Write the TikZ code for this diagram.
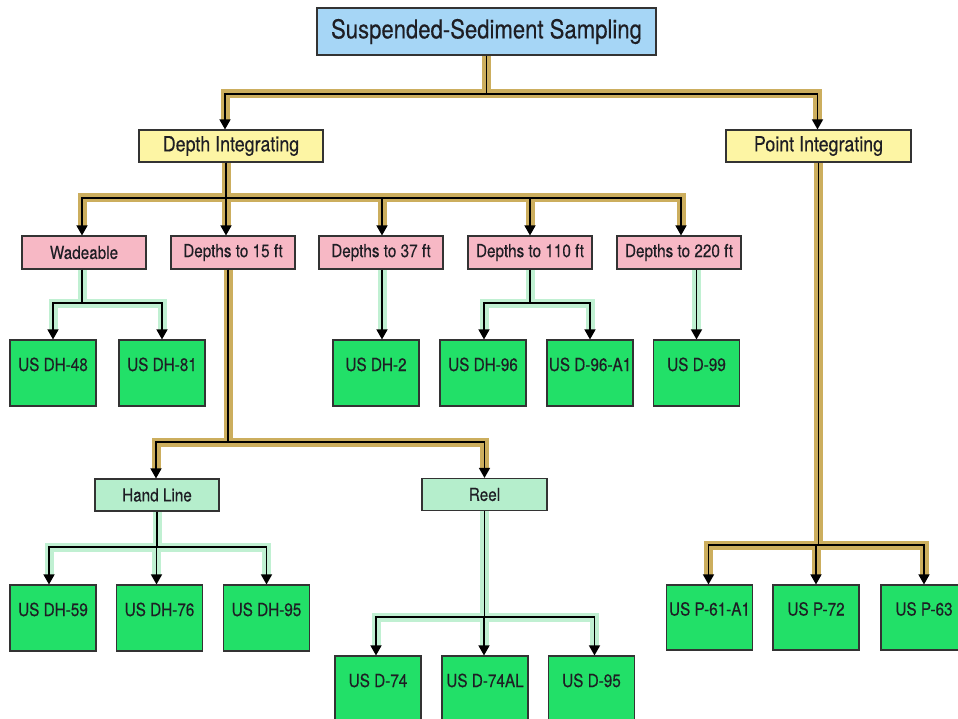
\documentclass[tikz,border=0pt]{standalone}
\usepackage{fontspec}
\setmainfont{TeX Gyre Heros}[FakeStretch=0.85, FakeBold=0.3]
\usetikzlibrary{arrows.meta}
\pgfdeclarelayer{back}
\pgfdeclarelayer{bands}
\pgfsetlayers{back,bands,main}
\definecolor{titleblue}{HTML}{A6D6F6}
\definecolor{lvlyellow}{HTML}{FDF5A4}
\definecolor{lvlpink}{HTML}{F7B8C5}
\definecolor{lvlmint}{HTML}{B5EECC}
\definecolor{boxgreen}{HTML}{22E068}
\definecolor{tanband}{HTML}{CCAE5E}
\definecolor{mintband}{HTML}{C0F0D2}
\definecolor{edgegray}{HTML}{333333}
\definecolor{txt}{HTML}{1E1E24}
\tikzset{
  basebox/.style={draw=edgegray, line width=1.1pt, inner sep=0pt, text=txt, font=\fontsize{18}{20}\selectfont},
  titlebox/.style={basebox, fill=titleblue, minimum width=339pt, minimum height=47pt, font=\fontsize{26}{28}\selectfont},
  ybox/.style={basebox, fill=lvlyellow, minimum width=184pt, minimum height=32pt, font=\fontsize{21}{23}\selectfont},
  pbox/.style={basebox, fill=lvlpink, minimum width=124pt, minimum height=33pt},
  mbox/.style={basebox, fill=lvlmint, minimum width=124pt, minimum height=32pt},
  gbox/.style={basebox, fill=boxgreen, minimum width=86pt, minimum height=66pt, text height=13pt, text depth=17pt},
  tanline/.style={draw=tanband, line width=9pt, line join=miter, shorten >=9pt},
  mintline/.style={draw=mintband, line width=9pt, line join=miter, shorten >=9pt},
  conn/.style={draw=black, line width=1.4pt, -{Triangle[width=11pt,length=10pt]}}
}
\newcommand\branch[4]{%
  \begin{pgfonlayer}{bands}\draw[#1] (#2) -- (#2 |- #3) -| (#4);\end{pgfonlayer}
  \draw[conn] (#2) -- (#2 |- #3) -| (#4);}
\newcommand\straight[3]{%
  \begin{pgfonlayer}{bands}\draw[#1] (#2) -- (#3);\end{pgfonlayer}
  \draw[conn] (#2) -- (#3);}
\begin{document}
\begin{tikzpicture}[x=1pt,y=-1pt]
\begin{pgfonlayer}{back}
\fill[white] (0,0) rectangle (958,719);
\end{pgfonlayer}
\useasboundingbox (0,0) rectangle (958,719);
\clip (0,0) rectangle (958,719);

% nodes
\node[titlebox] (top) at (486.5,31.5) {Suspended-Sediment Sampling};
\node[ybox] (di) at (231,146) {Depth Integrating};
\node[ybox, minimum width=185pt] (pi) at (818.5,146) {Point Integrating};

\node[pbox] (wd) at (84,252.5) {Wadeable};
\node[pbox] (d15) at (233,252.5) {Depths to 15 ft};
\node[pbox] (d37) at (381,252.5) {Depths to 37 ft};
\node[pbox] (d110) at (530,252.5) {Depths to 110 ft};
\node[pbox] (d220) at (679,252.5) {Depths to 220 ft};

\node[gbox] (dh48) at (53,373) {US DH-48};
\node[gbox] (dh81) at (162,373) {US DH-81};
\node[gbox] (dh2) at (376,373) {US DH-2};
\node[gbox] (dh96) at (483,373) {US DH-96};
\node[gbox] (d96a1) at (590,373) {US D-96-A1};
\node[gbox] (d99) at (696.5,373) {US D-99};

\node[mbox] (hl) at (157,495) {Hand Line};
\node[mbox, minimum width=125pt] (reel) at (484.5,494.5) {Reel};

\node[gbox] (dh59) at (53,618) {US DH-59};
\node[gbox] (dh76) at (159.5,618) {US DH-76};
\node[gbox] (dh95) at (266.5,618) {US DH-95};

\node[gbox] (d74) at (378,689) {US D-74};
\node[gbox] (d74al) at (485,689) {US D-74AL};
\node[gbox] (d95) at (591.5,689) {US D-95};

\node[gbox, minimum height=65pt] (p61) at (709.5,617.5) {US P-61-A1};
\node[gbox, minimum height=65pt] (p72) at (816,617.5) {US P-72};
\node[gbox, minimum height=65pt] (p63) at (924,617.5) {US P-63};

% junctions and offset anchors
\coordinate (j0) at (0,94);
\coordinate (j1) at (0,198);
\coordinate (j2) at (0,303);
\coordinate (j3) at (0,442);
\coordinate (j4) at (0,547);
\coordinate (j5) at (0,617);
\coordinate (j6) at (0,545);
\coordinate (diS) at ([xshift=-5pt]di.south);
\coordinate (d15S) at ([xshift=-5pt]d15.south);
\coordinate (wdS) at ([xshift=-2pt]wd.south);

% top level
\branch{tanline}{top.south}{j0}{[xshift=-6pt]di.north}
\branch{tanline}{top.south}{j0}{[xshift=-1pt]pi.north}
% depth integrating
\branch{tanline}{diS}{j1}{[xshift=-2pt]wd.north}
\branch{tanline}{diS}{j1}{[xshift=-7pt]d15.north}
\branch{tanline}{diS}{j1}{[xshift=1pt]d37.north}
\branch{tanline}{diS}{j1}{d110.north}
\branch{tanline}{diS}{j1}{[xshift=2pt]d220.north}
% wadeable
\branch{mintline}{wdS}{j2}{dh48.north}
\branch{mintline}{wdS}{j2}{dh81.north}
% 37, 110, 220
\straight{mintline}{[xshift=1pt]d37.south}{[xshift=1pt]d37.south |- dh2.north}
\branch{mintline}{d110.south}{j2}{[xshift=1pt]dh96.north}
\branch{mintline}{d110.south}{j2}{d96a1.north}
\straight{mintline}{d99.north |- d220.south}{d99.north}
% 15 ft
\branch{tanline}{d15S}{j3}{[xshift=-1pt]hl.north}
\branch{tanline}{d15S}{j3}{reel.north}
% hand line
\branch{mintline}{hl.south}{j4}{[xshift=-4pt]dh59.north}
\branch{mintline}{hl.south}{j4}{[xshift=-3pt]dh76.north}
\branch{mintline}{hl.south}{j4}{dh95.north}
% reel
\branch{mintline}{reel.south}{j5}{[xshift=-2pt]d74.north}
\branch{mintline}{reel.south}{j5}{[xshift=-1pt]d74al.north}
\branch{mintline}{reel.south}{j5}{[xshift=3pt]d95.north}
% point integrating
\branch{tanline}{pi.south}{j6}{[xshift=-1pt]p61.north}
\branch{tanline}{pi.south}{j6}{p72.north}
\branch{tanline}{pi.south}{j6}{p63.north}
\end{tikzpicture}
\end{document}
